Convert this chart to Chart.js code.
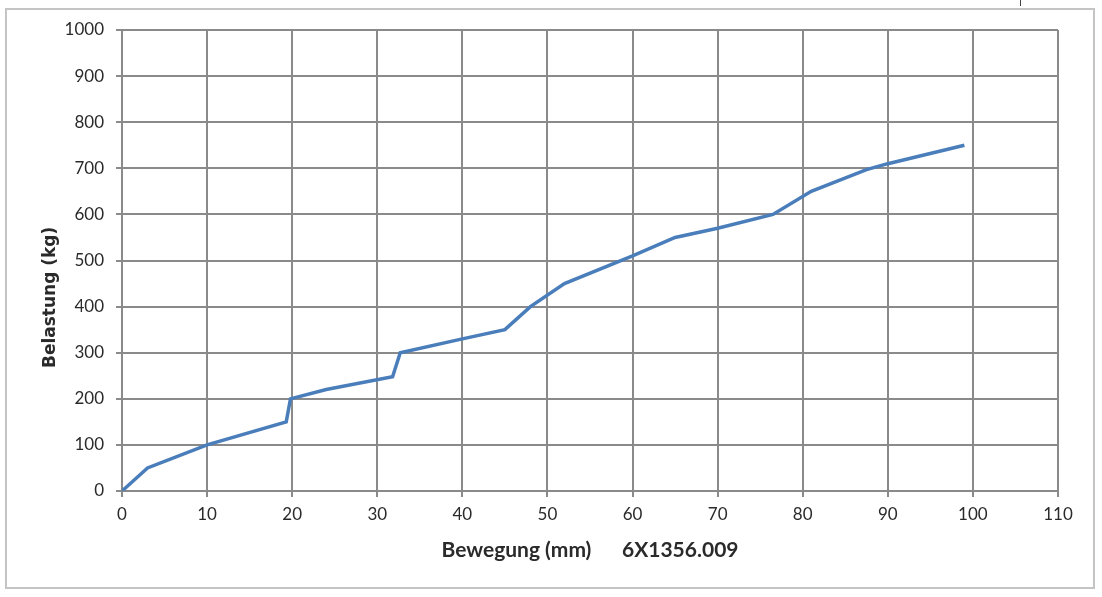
<!DOCTYPE html>
<html>
<head>
<meta charset="utf-8">
<script src="https://cdn.jsdelivr.net/npm/chart.js@4"></script>
<style>
  html, body { margin: 0; padding: 0; background: #fff; }
  #wrap { position: relative; width: 1102px; height: 597px; }
  #frame { position: absolute; left: 5px; top: 8px; width: 1086px; height: 577px; border: 2px solid #c4c4c4; }
  #mark { position: absolute; left: 1020px; top: 0; width: 1px; height: 6px; background: #444; }
  canvas { position: absolute; left: 0; top: 0; }
</style>
</head>
<body>
<div id="wrap">
  <div id="frame"></div>
  <div id="mark"></div>
  <canvas id="chart" width="1102" height="597"></canvas>
</div>
<script>
// Bewegung (mm) vs Belastung (kg)
const movementMm = [0, 3, 10, 19.3, 19.8, 24, 31.8, 32.7, 40, 45, 48, 52, 60, 65, 70, 76.5, 81, 87.5, 90, 99];
const loadKg = [0, 50, 100, 150, 200, 220, 248, 300, 330, 350, 400, 450, 510, 550, 570, 600, 650, 697, 710, 750];

const xTicks = [0, 10, 20, 30, 40, 50, 60, 70, 80, 90, 100, 110];
const yTicks = [0, 100, 200, 300, 400, 500, 600, 700, 800, 900, 1000];

const gridColor = '#8a8a8a';
const textColor = '#2a2a2a';
const yTitleText = 'Belastung (kg)';

const points = movementMm.map((x, i) => ({ x: x, y: loadKg[i] }));

// y title sits a bit below the middle of the axis in the original, so draw it by hand
const yTitlePlugin = {
    id: 'yTitle',
    afterDraw(chart) {
        const area = chart.chartArea;
        const ctx = chart.ctx;
        ctx.save();
        ctx.translate(area.left - 71, area.top + (area.bottom - area.top) * 0.58);
        ctx.rotate(-Math.PI / 2);
        ctx.font = 'bold 17px "DejaVu Sans"';
        ctx.fillStyle = textColor;
        ctx.textAlign = 'center';
        ctx.textBaseline = 'middle';
        ctx.fillText(yTitleText, 0, 0);
        ctx.restore();
    }
};

new Chart(document.getElementById('chart'), {
    type: 'line',
    data: {
        datasets: [{
            data: points,
            borderColor: '#4a7ebb',
            borderWidth: 3.5,
            pointRadius: 0,
            tension: 0,
            fill: false
        }]
    },
    options: {
        responsive: false,
        animation: false,
        layout: { padding: { left: 30, right: 44, top: 30, bottom: 30 } },
        plugins: { legend: { display: false }, tooltip: { enabled: false } },
        scales: {
            x: {
                type: 'linear',
                min: 0,
                max: 110,
                afterBuildTicks: function (scale) { scale.ticks = xTicks.map(v => ({ value: v })); },
                afterFit: function (scale) { scale.height = 76; },
                grid: { color: gridColor, lineWidth: 2, tickLength: 6 },
                border: { color: gridColor, width: 2 },
                ticks: {
                    color: textColor, font: { family: 'Lato', size: 17 }, padding: 7, maxRotation: 0,
                    callback: v => String(v)
                },
                title: {
                    display: true,
                    text: 'Bewegung (mm)      6X1356.009',
                    color: textColor,
                    font: { family: 'Lato', size: 21, weight: 'bold' },
                    padding: { top: 0, bottom: 4 }
                }
            },
            y: {
                type: 'linear',
                min: 0,
                max: 1000,
                afterBuildTicks: function (scale) { scale.ticks = yTicks.map(v => ({ value: v })); },
                afterFit: function (scale) { scale.width = 92; },
                grid: { color: gridColor, lineWidth: 2, tickLength: 6 },
                border: { color: gridColor, width: 2 },
                ticks: {
                    color: textColor, font: { family: 'Lato', size: 17 }, padding: 12,
                    callback: v => String(v)
                },
                title: { display: false }
            }
        }
    },
    plugins: [yTitlePlugin]
});
</script>
</body>
</html>
